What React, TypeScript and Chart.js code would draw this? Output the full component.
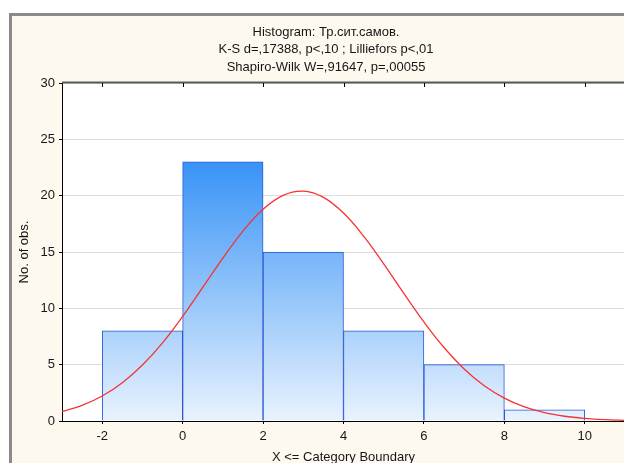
import { useEffect, useRef } from "react";
import { Chart, registerables } from "chart.js";

Chart.register(...registerables);

// Canvas is a bit wider/taller than the visible window so the plot runs off the right edge.
const CANVAS_W = 660;
const CANVAS_H = 480;

const titleLines = [
  "Histogram: Тр.сит.самов.",
  "K-S d=,17388, p<,10 ; Lilliefors p<,01",
  "Shapiro-Wilk W=,91647, p=,00055",
];
const xAxisTitle = "X <= Category Boundary";
const yAxisTitle = "No. of obs.";

// Histogram bins (upper boundaries) and observed counts
const binEdges = [-2, 0, 2, 4, 6, 8, 10];
const binCounts = [8, 23, 15, 8, 5, 1];

// Axis settings
const xTickValues = [-2, 0, 2, 4, 6, 8, 10];
const xMin = -3;
const xMax = 11;
const yMin = 0;
const yMax = 30;
const yStep = 5;

// Expected normal curve (counts per bin)
const curveX = [
  -3, -2.5, -2, -1.5, -1, -0.5, 0, 0.5, 1, 1.5, 2, 2.5, 3, 3.5, 4, 4.5, 5, 5.5,
  6, 6.5, 7, 7.5, 8, 8.5, 9, 9.5, 10, 10.5, 11,
];
const curveY = [
  0.83, 1.39, 2.22, 3.4, 4.97, 6.94, 9.28, 11.85, 14.46, 16.86, 18.8, 20.03,
  20.4, 19.85, 18.46, 16.41, 13.94, 11.32, 8.79, 6.52, 4.62, 3.13, 2.03, 1.25,
  0.74, 0.42, 0.23, 0.12, 0.06,
];

const FONT_FAMILY = '"Liberation Sans", Arial, sans-serif';
const TEXT_COLOR = "#161616";

const barFill = (ctx: any) => {
  const chart = ctx.chart;
  const { chartArea, scales } = chart;
  if (!chartArea) return "rgba(0,0,0,0)";
  const y0 = scales.y.getPixelForValue(0);
  const y1 = scales.y.getPixelForValue(Math.max(...binCounts));
  const g = chart.ctx.createLinearGradient(0, y0, 0, y1);
  g.addColorStop(0, "#e9f3fe");
  g.addColorStop(1, "#3893f6");
  return g;
};

const framePlugin = {
  id: "statFrame",
  beforeDraw(chart: any) {
    const { ctx, chartArea: a } = chart;
    ctx.save();
    ctx.fillStyle = "#ffffff";
    ctx.fillRect(0, 0, chart.width, chart.height);
    // cream panel with grey frame
    ctx.fillStyle = "#fef9ef";
    ctx.fillRect(9, 13, chart.width, chart.height);
    ctx.strokeStyle = "#8a8a8a";
    ctx.lineWidth = 3;
    ctx.strokeRect(10.5, 14.5, 628, chart.height + 20);
    // white plotting area
    ctx.fillStyle = "#ffffff";
    ctx.fillRect(a.left, a.top, a.right - a.left, a.bottom - a.top);
    // title block
    ctx.fillStyle = TEXT_COLOR;
    ctx.font = `13px ${FONT_FAMILY}`;
    ctx.textAlign = "center";
    ctx.textBaseline = "middle";
    titleLines.forEach((line, i) => {
      ctx.fillText(line, 326, 32 + i * 17.5);
    });
    ctx.restore();
  },
  afterDraw(chart: any) {
    const { ctx, chartArea: a, scales } = chart;
    ctx.save();
    // top border of the plot
    ctx.strokeStyle = "#5a5a5a";
    ctx.lineWidth = 2;
    ctx.beginPath();
    ctx.moveTo(a.left, a.top - 0.5);
    ctx.lineTo(a.right, a.top - 0.5);
    ctx.stroke();
    // small inward ticks along the top border
    ctx.strokeStyle = "#000";
    ctx.lineWidth = 1;
    ctx.beginPath();
    xTickValues.forEach((v) => {
      const px = Math.round(scales.x.getPixelForValue(v)) + 0.5;
      ctx.moveTo(px, a.top);
      ctx.lineTo(px, a.top + 4);
    });
    ctx.stroke();
    ctx.restore();
  },
};

export default function App() {
  const canvasRef = useRef<HTMLCanvasElement | null>(null);

  useEffect(() => {
    const canvas = canvasRef.current;
    if (!canvas) return;

    const barData = binCounts.map((c, i) => ({
      x: (binEdges[i] + binEdges[i + 1]) / 2,
      y: c,
    }));
    const curveData = curveX.map((x, i) => ({ x, y: curveY[i] }));

    const chart = new Chart(canvas, {
      type: "bar",
      data: {
        datasets: [
          {
            type: "line",
            data: curveData,
            borderColor: "#f53333",
            borderWidth: 1.3,
            pointRadius: 0,
            tension: 0.4,
            fill: false,
            order: 0,
          } as any,
          {
            type: "bar",
            data: barData,
            backgroundColor: barFill,
            borderColor: "#2a58d4",
            borderWidth: 1,
            borderSkipped: "bottom",
            barPercentage: 1,
            categoryPercentage: 1,
            order: 1,
          } as any,
        ],
      },
      options: {
        responsive: false,
        animation: false,
        devicePixelRatio: 1,
        layout: { padding: { top: 83, right: 35, bottom: 0, left: 0 } },
        plugins: {
          legend: { display: false },
          tooltip: { enabled: false },
          title: { display: false },
        },
        scales: {
          x: {
            type: "linear",
            min: xMin,
            max: xMax,
            offset: false,
            afterBuildTicks: (s: any) => {
              s.ticks = xTickValues.map((v) => ({ value: v }));
            },
            afterFit: (s: any) => {
              s.height = CANVAS_H - 421;
            },
            grid: {
              offset: false,
              drawOnChartArea: false,
              drawTicks: true,
              tickLength: 3,
              tickColor: "#000",
            },
            border: { display: true, color: "#000", width: 1 },
            ticks: {
              padding: 5,
              color: TEXT_COLOR,
              font: { size: 13, family: FONT_FAMILY },
              maxRotation: 0,
              autoSkip: false,
            },
            title: {
              display: true,
              text: xAxisTitle,
              color: TEXT_COLOR,
              font: { size: 13, family: FONT_FAMILY },
              padding: { top: 0, bottom: 15 },
            },
          },
          y: {
            type: "linear",
            min: yMin,
            max: yMax,
            afterFit: (s: any) => {
              s.width = 62;
            },
            grid: {
              color: "#dcdcdc",
              drawTicks: true,
              tickLength: 3,
              tickColor: "#000",
            },
            border: { display: true, color: "#000", width: 1 },
            ticks: {
              stepSize: yStep,
              padding: 4,
              color: TEXT_COLOR,
              font: { size: 13, family: FONT_FAMILY },
            },
            title: {
              display: true,
              text: yAxisTitle,
              color: TEXT_COLOR,
              font: { size: 13, family: FONT_FAMILY },
              padding: { top: 17, bottom: 0 },
            },
          },
        },
      } as any,
      plugins: [framePlugin],
    });

    return () => chart.destroy();
  }, []);

  return (
    <div
      style={{
        position: "fixed",
        left: 0,
        top: 0,
        width: 624,
        height: 463,
        overflow: "hidden",
        background: "#ffffff",
      }}
    >
      <canvas
        ref={canvasRef}
        width={CANVAS_W}
        height={CANVAS_H}
        style={{ width: CANVAS_W, height: CANVAS_H, display: "block" }}
      />
    </div>
  );
}
